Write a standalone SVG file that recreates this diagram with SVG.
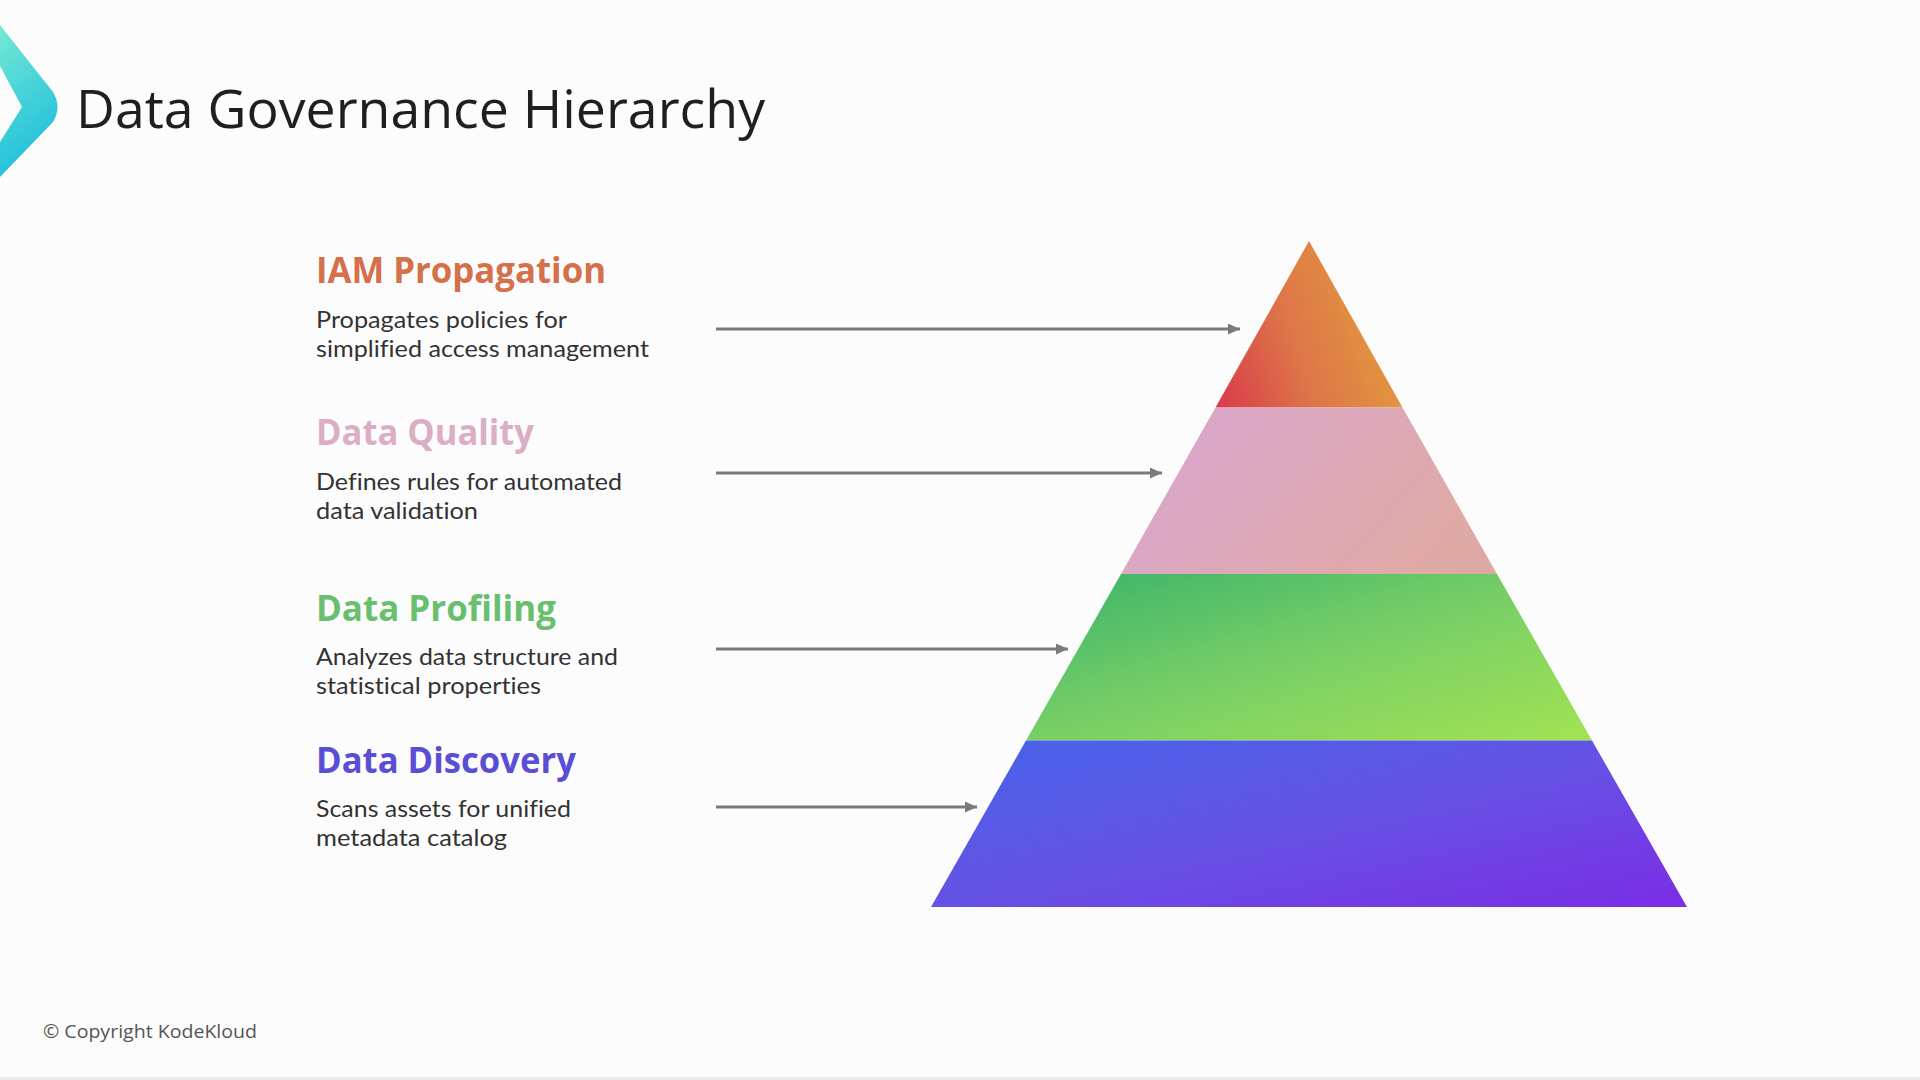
<svg xmlns="http://www.w3.org/2000/svg" width="1920" height="1080" viewBox="0 0 1920 1080">
  <defs>
    <linearGradient id="gChev" x1="0" y1="0" x2="0.3" y2="1">
      <stop offset="0" stop-color="#74e9d5"/>
      <stop offset="1" stop-color="#1fbfdc"/>
    </linearGradient>
    <linearGradient id="gTop" x1="0" y1="0.9" x2="1" y2="0.6">
      <stop offset="0" stop-color="#d93d4a"/>
      <stop offset="0.45" stop-color="#dd7449"/>
      <stop offset="1" stop-color="#e39c3d"/>
    </linearGradient>
    <linearGradient id="gPink" x1="0" y1="0" x2="1" y2="0.4">
      <stop offset="0" stop-color="#d9a5d2"/>
      <stop offset="1" stop-color="#dfaaa6"/>
    </linearGradient>
    <linearGradient id="gGreen" x1="0" y1="0" x2="1" y2="1">
      <stop offset="0" stop-color="#39b36a"/>
      <stop offset="0.5" stop-color="#79cf66"/>
      <stop offset="1" stop-color="#a2e353"/>
    </linearGradient>
    <linearGradient id="gBlue" x1="0" y1="0" x2="1" y2="1">
      <stop offset="0" stop-color="#4464e8"/>
      <stop offset="0.5" stop-color="#6552e4"/>
      <stop offset="1" stop-color="#7b2de5"/>
    </linearGradient>
    <marker id="arr" markerWidth="12" markerHeight="11" refX="12" refY="5.5" orient="auto" markerUnits="userSpaceOnUse">
      <path d="M0,0 L12,5.5 L0,11 Z" fill="#7a7a7a"/>
    </marker>
  </defs>
  <style>
    text { font-variant-ligatures: none; }
    .title { font-family: "Open Sans", "Liberation Sans", sans-serif; font-size: 53px; fill: #1f1f1f; }
    .head { font-family: "Open Sans", "Liberation Sans", sans-serif; font-size: 35px; font-weight: 700; }
    .desc { font-family: Lato, "Open Sans", "Liberation Sans", sans-serif; font-size: 23px; fill: #333333; }
    .copy { font-family: "Open Sans", "Liberation Sans", sans-serif; font-size: 18.5px; fill: #555555; }
    .conn { stroke: #7a7a7a; stroke-width: 3; fill: none; }
  </style>
  <rect x="0" y="0" width="1920" height="1080" fill="#fdfcfd"/>
  <rect x="0" y="1077" width="1920" height="3" fill="#ebebeb"/>

  <g id="header">
    <path d="M0,25 L53,92 Q62,107 53,122 L0,177 L0,142 L22,107 L0,66 Z" fill="url(#gChev)"/>
    <text class="title" x="76" y="128" textLength="689" lengthAdjust="spacingAndGlyphs">Data Governance Hierarchy</text>
  </g>

  <g id="pyramid">
    <polygon id="layer-iam" points="1309,241 1402.5,407.5 1215.5,407.5" fill="url(#gTop)"/>
    <polygon id="layer-quality" points="1215.5,407.5 1402.5,407.5 1497,574 1121,574" fill="url(#gPink)"/>
    <polygon id="layer-profiling" points="1121,574 1497,574 1592,740.5 1026,740.5" fill="url(#gGreen)"/>
    <polygon id="layer-discovery" points="1026,740.5 1592,740.5 1687,907 931,907" fill="url(#gBlue)"/>
  </g>

  <g id="connectors">
    <line class="conn" x1="716" y1="329" x2="1240" y2="329" marker-end="url(#arr)"/>
    <line class="conn" x1="716" y1="473" x2="1162" y2="473" marker-end="url(#arr)"/>
    <line class="conn" x1="716" y1="649" x2="1068" y2="649" marker-end="url(#arr)"/>
    <line class="conn" x1="716" y1="807" x2="977" y2="807" marker-end="url(#arr)"/>
  </g>

  <g id="node-iam">
    <text class="head" x="316" y="283" fill="#d4704a" textLength="290" lengthAdjust="spacingAndGlyphs">IAM Propagation</text>
    <text class="desc" x="316" y="328" textLength="251" lengthAdjust="spacingAndGlyphs">Propagates policies for</text>
    <text class="desc" x="316" y="357" textLength="333" lengthAdjust="spacingAndGlyphs">simplified access management</text>
  </g>
  <g id="node-quality">
    <text class="head" x="316" y="445" fill="#dcaec6" textLength="218" lengthAdjust="spacingAndGlyphs">Data Quality</text>
    <text class="desc" x="316" y="490" textLength="306" lengthAdjust="spacingAndGlyphs">Defines rules for automated</text>
    <text class="desc" x="316" y="518.5" textLength="162" lengthAdjust="spacingAndGlyphs">data validation</text>
  </g>
  <g id="node-profiling">
    <text class="head" x="316" y="621" fill="#68bf6e" textLength="240" lengthAdjust="spacingAndGlyphs">Data Profiling</text>
    <text class="desc" x="316" y="665" textLength="302" lengthAdjust="spacingAndGlyphs">Analyzes data structure and</text>
    <text class="desc" x="316" y="693.5" textLength="225" lengthAdjust="spacingAndGlyphs">statistical properties</text>
  </g>
  <g id="node-discovery">
    <text class="head" x="316" y="773" fill="#5a4fd4" textLength="260" lengthAdjust="spacingAndGlyphs">Data Discovery</text>
    <text class="desc" x="316" y="817" textLength="255" lengthAdjust="spacingAndGlyphs">Scans assets for unified</text>
    <text class="desc" x="316" y="845.5" textLength="191" lengthAdjust="spacingAndGlyphs">metadata catalog</text>
  </g>

  <g id="footer">
    <text class="copy" x="43" y="1038" textLength="214" lengthAdjust="spacingAndGlyphs">© Copyright KodeKloud</text>
  </g>
</svg>
